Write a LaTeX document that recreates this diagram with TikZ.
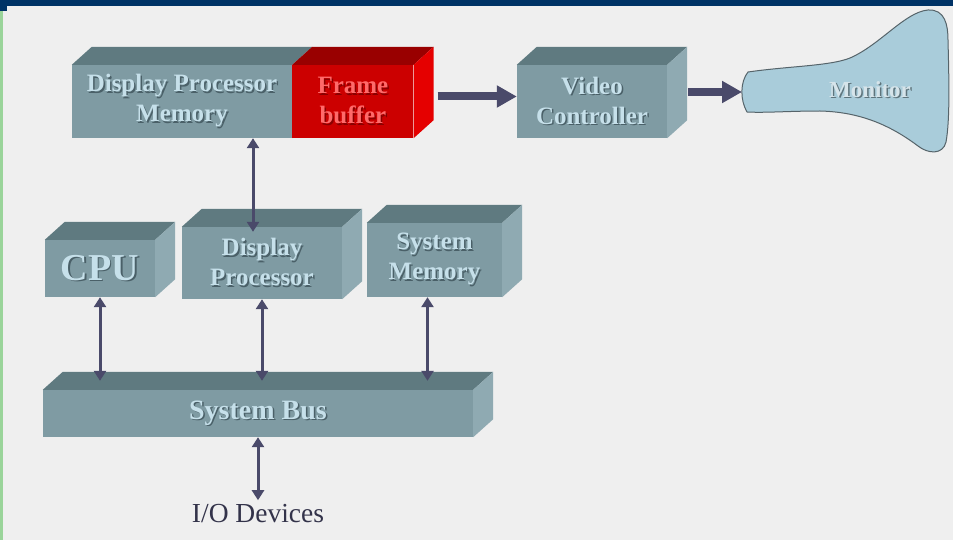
\documentclass[tikz,border=0pt]{standalone}
\usepackage{fontspec}
\setmainfont{Liberation Serif}
\usetikzlibrary{
  arrows.meta,
  positioning
}
\definecolor{pageFill}{HTML}{EFEFEF}
\definecolor{barNavy}{HTML}{003366}
\definecolor{edgeGreen}{HTML}{9AD49A}
\definecolor{boxFront}{HTML}{7F9BA3}
\definecolor{boxTop}{HTML}{5F7A80}
\definecolor{boxSide}{HTML}{8FAAB2}
\definecolor{boxText}{HTML}{C6E0EA}
\definecolor{embShadow}{HTML}{4A6068}
\definecolor{fbFront}{HTML}{CC0000}
\definecolor{fbTop}{HTML}{990000}
\definecolor{fbSide}{HTML}{E50000}
\definecolor{fbText}{HTML}{FF6A6A}
\definecolor{fbShadow}{HTML}{8A0000}
\definecolor{tubeFill}{HTML}{A9CCDA}
\definecolor{tubeLine}{HTML}{56646A}
\definecolor{tubeText}{HTML}{D6E4EA}
\definecolor{tubeShadow}{HTML}{5E747C}
\definecolor{wire}{HTML}{4A4A6A}
\definecolor{ioText}{HTML}{33334A}
% raised label: a dark copy just below-right of the text
\newcommand{\emb}[2][embShadow]{\rlap{\hspace{1.5pt}\raisebox{-1.5pt}{\textcolor{#1}{#2}}}#2}
% top and right faces of a box whose front is node #1
\newcommand{\extrude}[3]{%
  \fill[#2] (#1.north west) -- ++(20,-18) -- ([shift={(20,-18)}]#1.north east) -- (#1.north east) -- cycle;
  \fill[#3] (#1.north east) -- ([shift={(20,-18)}]#1.north east) -- ([shift={(20,-18)}]#1.south east) -- (#1.south east) -- cycle;
}
\tikzset{
  unit/.style={
    fill=boxFront,
    text=boxText,
    inner sep=0pt,
    align=center,
    font=\bfseries\fontsize{25}{30}\selectfont
  },
  buffer/.style={unit, fill=fbFront, text=fbText},
  flow/.style={-{Triangle[length=20pt,width=21pt]}, line width=8pt, draw=wire},
  link/.style={{Triangle[length=10pt,width=12pt]}-{Triangle[length=10pt,width=12pt]}, line width=3pt, draw=wire}
}

\begin{document}
\begin{tikzpicture}[x=1pt, y=-1pt]

% --- Page ---
\fill[pageFill] (0,0) rectangle (953,540);
\useasboundingbox (0,0) rectangle (953,540);
\fill[barNavy] (0,0) rectangle (953,6);
\fill[barNavy] (0,0) rectangle (7,11);
\fill[edgeGreen] (0,11) rectangle (2.5,540);

% --- Display side ---
\node[unit, minimum width=220pt, minimum height=73pt] (dpm) at (182,101.5)
  {\emb{Display Processor}\\\emb{Memory}};
\extrude{dpm}{boxTop}{boxSide}

\node[buffer, minimum width=121pt, minimum height=73pt, right=0pt of dpm] (fb)
  {\emb[fbShadow]{Frame}\\\emb[fbShadow]{buffer}};
\extrude{fb}{fbTop}{fbSide}

\node[unit, minimum width=150pt, minimum height=73pt] (vc) at (592,101.5)
  {\emb{Video}\\\emb{Controller}};
\extrude{vc}{boxTop}{boxSide}

\fill[tubeFill, draw=tubeLine, line width=1pt]
  (748,72) .. controls (790,66) and (830,66) .. (850,58)
  .. controls (880,45) and (905,12) .. (928,10)
  .. controls (945,9) and (948,25) .. (948,40)
  .. controls (949,80) and (950,120) .. (946,142)
  .. controls (943,155) and (928,154) .. (918,146)
  .. controls (890,125) and (860,112) .. (820,111)
  .. controls (790,111) and (765,113) .. (747,112)
  .. controls (740,100) and (740,82) .. cycle;
\node[font=\bfseries\fontsize{23}{27}\selectfont, text=tubeText] (monitor) at (870,90)
  {\emb[tubeShadow]{Monitor}};
\coordinate (neck) at (742,92);

% --- Host side ---
\node[unit, minimum width=110pt, minimum height=57pt, font=\bfseries\fontsize{38}{42}\selectfont] (cpu) at (100,268.5)
  {\emb{CPU}};
\extrude{cpu}{boxTop}{boxSide}

\node[unit, minimum width=160pt, minimum height=72pt] (dp) at (262,263)
  {\emb{Display}\\\emb{Processor}};
\extrude{dp}{boxTop}{boxSide}

\node[unit, minimum width=135pt, minimum height=74pt] (sm) at (434.5,260)
  {\emb{System}\\\emb{Memory}};
\extrude{sm}{boxTop}{boxSide}

\node[unit, minimum width=430pt, minimum height=47pt, font=\bfseries\fontsize{28}{32}\selectfont] (bus) at (258,413.5)
  {\emb{System Bus}};
\extrude{bus}{boxTop}{boxSide}
\coordinate (busdeck) at ([shift={(10,-9)}]bus.north);

\node[below=63pt of bus, inner sep=4pt, font=\fontsize{27.5}{31}\selectfont, text=ioText] (io) {I/O Devices};

% --- Connections ---
\draw[flow] ([shift={(24,-5)}]fb.east) -- ([shift={(0,-5)}]vc.west);
\draw[flow] ([shift={(21,-9.5)}]vc.east) -- (neck);

\coordinate (dpport) at ([shift={(-9,5)}]dp.north);
\draw[link] (dpport) -- (dpport |- dpm.south);

\draw[link] (cpu.south) -- (cpu.south |- busdeck);
\draw[link] (dp.south) -- (dp.south |- busdeck);
\draw[link] ([xshift=-7pt]sm.south) -- ([xshift=-7pt]sm.south |- busdeck);
\draw[link] (bus.south) -- (io.north);

\end{tikzpicture}
\end{document}
